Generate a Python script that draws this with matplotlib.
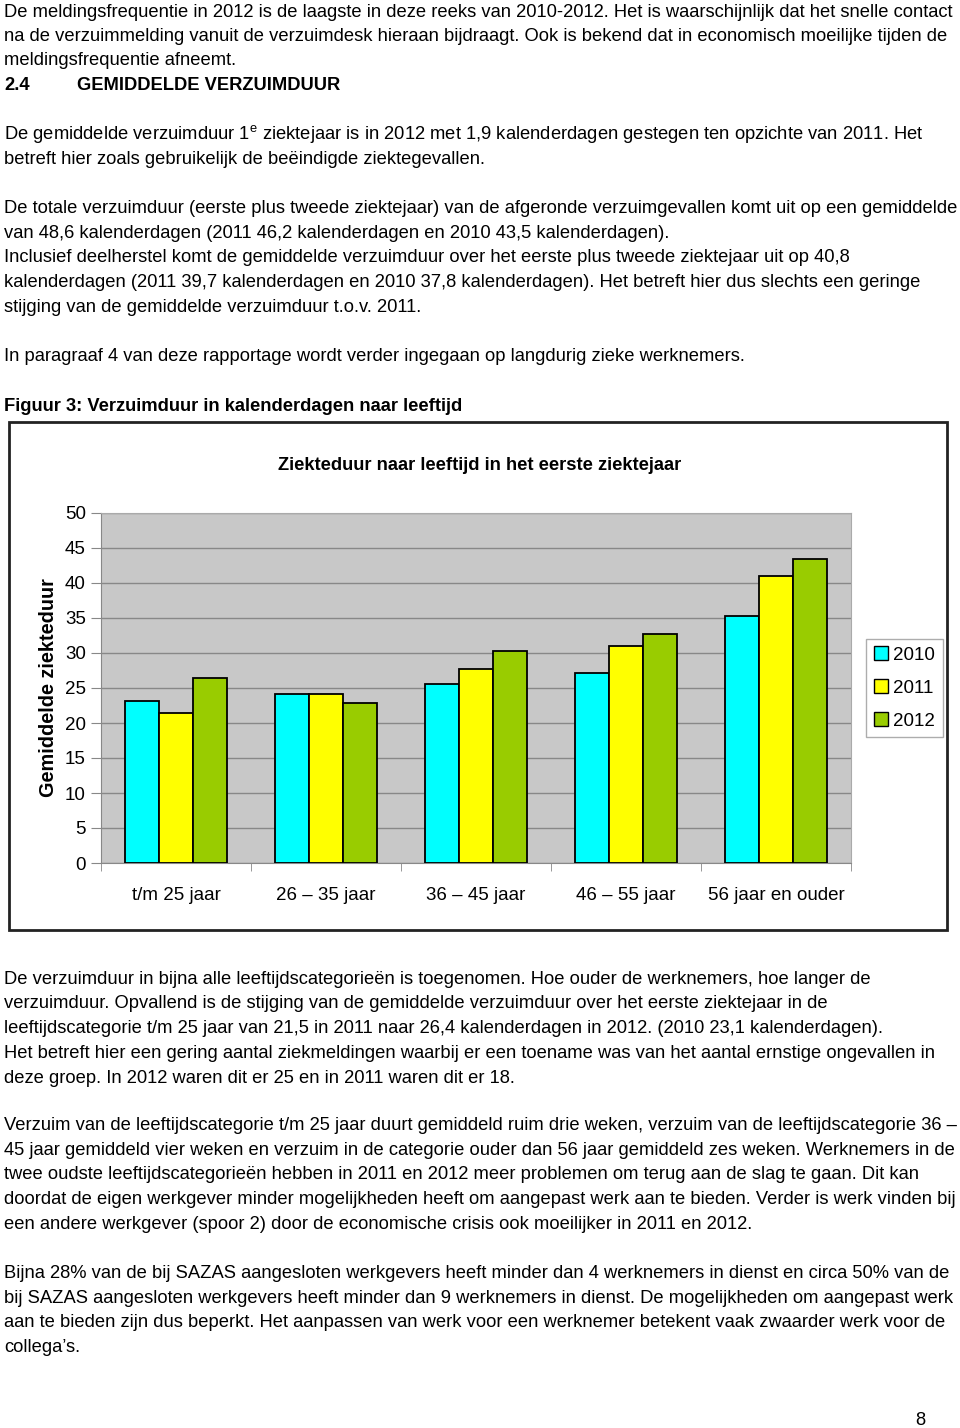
import matplotlib.pyplot as plt
import numpy as np
from matplotlib.patches import Rectangle

plt.rcParams['font.family'] = 'Liberation Sans'
plt.rcParams['mathtext.fontset'] = 'custom'
plt.rcParams['mathtext.rm'] = 'Liberation Sans'

# chart data (Gemiddelde ziekteduur, eerste ziektejaar)
categories = ['t/m 25 jaar', '26 \u2013 35 jaar', '36 \u2013 45 jaar', '46 \u2013 55 jaar', '56 jaar en ouder']
years = ['2010', '2011', '2012']
v2010 = [23.1, 24.1, 25.6, 27.2, 35.3]
v2011 = [21.5, 24.1, 27.7, 31.0, 41.0]
v2012 = [26.4, 22.8, 30.3, 32.7, 43.4]
yticks = [0, 5, 10, 15, 20, 25, 30, 35, 40, 45, 50]

# page text (line by line, as on the page)
text_top = [
    (10, 'De meldingsfrequentie in 2012 is de laagste in deze reeks van 2010-2012. Het is waarschijnlijk dat het snelle contact'),
    (34, 'na de verzuimmelding vanuit de verzuimdesk hieraan bijdraagt. Ook is bekend dat in economisch moeilijke tijden de'),
    (58, 'meldingsfrequentie afneemt.'),
    (132, 'De gemiddelde verzuimduur 1$^{\\mathrm{e}}$ ziektejaar is in 2012 met 1,9 kalenderdagen gestegen ten opzichte van 2011. Het'),
    (157, 'betreft hier zoals gebruikelijk de be\u00ebindigde ziektegevallen.'),
    (206, 'De totale verzuimduur (eerste plus tweede ziektejaar) van de afgeronde verzuimgevallen komt uit op een gemiddelde'),
    (231, 'van 48,6 kalenderdagen (2011 46,2 kalenderdagen en 2010 43,5 kalenderdagen).'),
    (255, 'Inclusief deelherstel komt de gemiddelde verzuimduur over het eerste plus tweede ziektejaar uit op 40,8'),
    (280, 'kalenderdagen (2011 39,7 kalenderdagen en 2010 37,8 kalenderdagen). Het betreft hier dus slechts een geringe'),
    (305, 'stijging van de gemiddelde verzuimduur t.o.v. 2011.'),
    (354, 'In paragraaf 4 van deze rapportage wordt verder ingegaan op langdurig zieke werknemers.'),
]
text_bottom = [
    (977, 'De verzuimduur in bijna alle leeftijdscategorie\u00ebn is toegenomen. Hoe ouder de werknemers, hoe langer de'),
    (1001, 'verzuimduur. Opvallend is de stijging van de gemiddelde verzuimduur over het eerste ziektejaar in de'),
    (1026, 'leeftijdscategorie t/m 25 jaar van 21,5 in 2011 naar 26,4 kalenderdagen in 2012. (2010 23,1 kalenderdagen).'),
    (1051, 'Het betreft hier een gering aantal ziekmeldingen waarbij er een toename was van het aantal ernstige ongevallen in'),
    (1076, 'deze groep. In 2012 waren dit er 25 en in 2011 waren dit er 18.'),
    (1123, 'Verzuim van de leeftijdscategorie t/m 25 jaar duurt gemiddeld ruim drie weken, verzuim van de leeftijdscategorie 36 \u2013'),
    (1148, '45 jaar gemiddeld vier weken en verzuim in de categorie ouder dan 56 jaar gemiddeld zes weken. Werknemers in de'),
    (1172, 'twee oudste leeftijdscategorie\u00ebn hebben in 2011 en 2012 meer problemen om terug aan de slag te gaan. Dit kan'),
    (1197, 'doordat de eigen werkgever minder mogelijkheden heeft om aangepast werk aan te bieden. Verder is werk vinden bij'),
    (1222, 'een andere werkgever (spoor 2) door de economische crisis ook moeilijker in 2011 en 2012.'),
    (1271, 'Bijna 28% van de bij SAZAS aangesloten werkgevers heeft minder dan 4 werknemers in dienst en circa 50% van de'),
    (1296, 'bij SAZAS aangesloten werkgevers heeft minder dan 9 werknemers in dienst. De mogelijkheden om aangepast werk'),
    (1320, 'aan te bieden zijn dus beperkt. Het aanpassen van werk voor een werknemer betekent vaak zwaarder werk voor de'),
    (1345, 'collega\u2019s.'),
]

W, H = 960, 1428
fig = plt.figure(figsize=(W / 100, H / 100), dpi=100)
fs = 13.25

def put(x, y, s, **kw):
    # y = line centre in page pixels; text sits on baseline y + 7
    kw.setdefault('fontsize', fs)
    fig.text(x / W, 1 - (y + 7) / H, s, va='baseline', ha=kw.pop('ha', 'left'), **kw)

for y, s in text_top + text_bottom:
    put(4, y, s)
put(4, 83, '2.4', fontweight='bold')
put(77, 83, 'GEMIDDELDE VERZUIMDUUR', fontweight='bold')
put(4, 404, 'Figuur 3: Verzuimduur in kalenderdagen naar leeftijd', fontweight='bold')
put(920, 1418, '8', ha='center')

# chart frame
fig.patches.append(Rectangle((9 / W, 1 - 930 / H), 938 / W, 508 / H, transform=fig.transFigure,
                             fill=False, edgecolor='#222222', linewidth=2))
fig.text(480 / W, 1 - 466 / H, 'Ziekteduur naar leeftijd in het eerste ziektejaar', ha='center', va='center',
         fontweight='bold', fontsize=13.2)

ax = fig.add_axes([101 / W, 1 - 863 / H, 750 / W, 350 / H])
ax.set_facecolor('#C8C8C8')
x = np.arange(len(categories))
bw = 0.226
colors = ['#00FFFF', '#FFFF00', '#99CC00']
for i, (vals, c, lab) in enumerate(zip([v2010, v2011, v2012], colors, years)):
    ax.bar(x + (i - 1) * bw, vals, bw, color=c, edgecolor='black', linewidth=1.3, label=lab, zorder=3)

ax.set_xlim(-0.5, len(categories) - 0.5)
ax.set_ylim(0, 50)
ax.set_yticks(yticks)
ax.yaxis.grid(True, color='#888888', linewidth=1, zorder=0)
ax.set_axisbelow(True)
ax.set_xticks(x)
ax.set_xticklabels(categories, fontsize=13.5)
ax.set_xticks(np.arange(len(categories) + 1) - 0.5, minor=True)
ax.tick_params(axis='x', which='major', length=0, pad=17)
ax.tick_params(axis='x', which='minor', length=6, color='#888888')
ax.tick_params(axis='y', labelsize=13.5, length=7, color='#888888', pad=4)
for side in ['top', 'right']:
    ax.spines[side].set_color('#AAAAAA')
ax.spines['left'].set_color('#888888')
ax.spines['bottom'].set_color('#888888')
ax.set_ylabel('Gemiddelde ziekteduur', fontsize=14.3, fontweight='bold', labelpad=5)

leg = ax.legend(loc='center left', bbox_to_anchor=(1.02, 0.5), fontsize=13.5, frameon=True, fancybox=False,
                edgecolor='#999999', handlelength=0.75, handleheight=0.75, handletextpad=0.3,
                borderpad=0.4, labelspacing=0.83, borderaxespad=0)
for h in leg.legend_handles:
    h.set_linewidth(1)

fig.savefig('out.png', dpi=100)
